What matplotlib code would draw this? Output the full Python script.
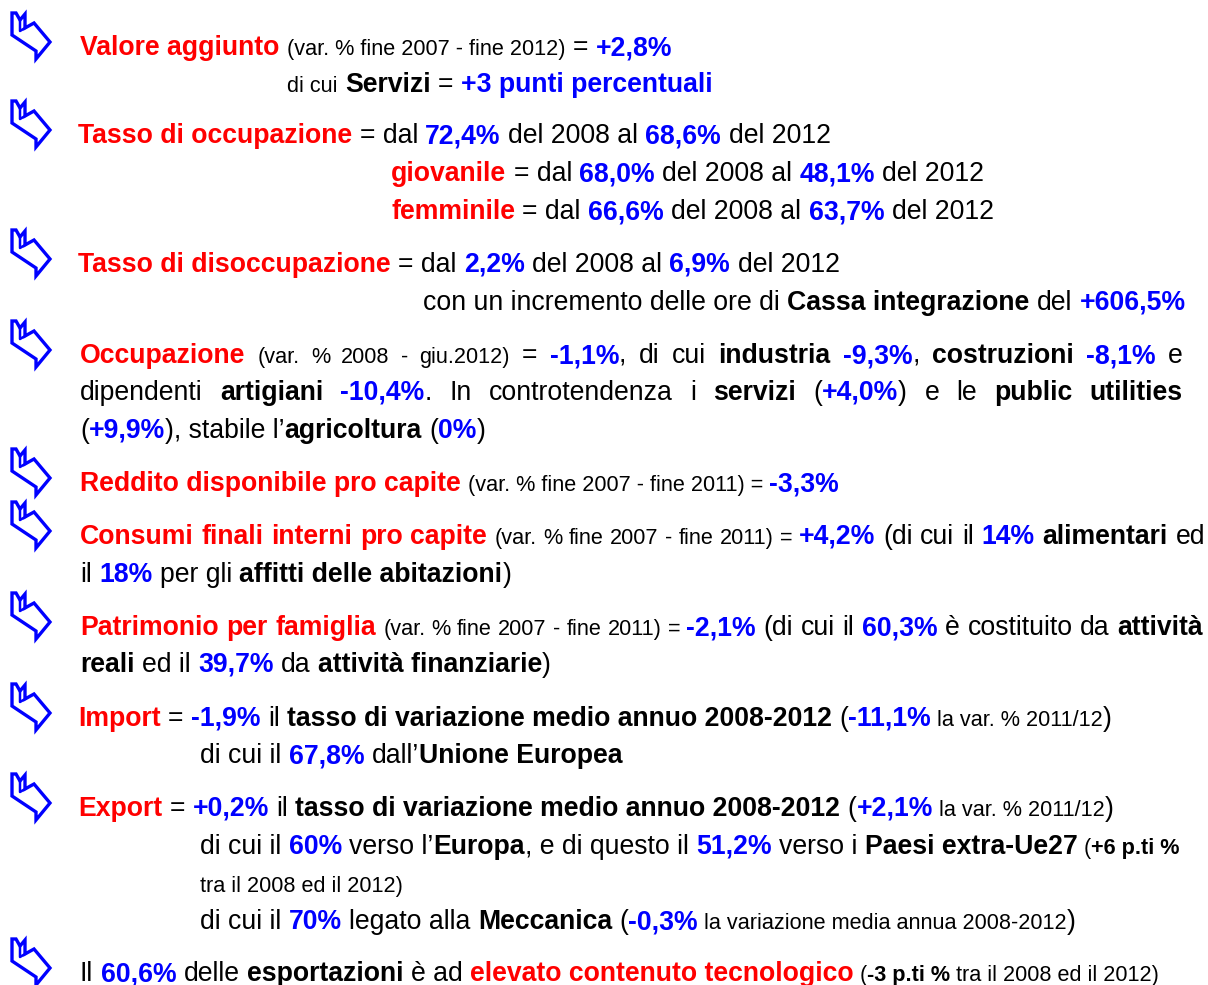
import matplotlib
matplotlib.use("Agg")
import matplotlib.pyplot as plt
from matplotlib.patches import Polygon

FAMILY = ['Liberation Sans', 'DejaVu Sans']
RED = '#FF0000'
BLUE = '#0000FF'
BLACK = '#000000'
BIG = 19.2
SMALL = 15.6

# stile: (dimensione, peso, colore)
STYLES = {
    'R': (BIG, 'bold', RED),
    'B': (BIG, 'bold', BLUE),
    'K': (BIG, 'bold', BLACK),
    'N': (BIG, 'normal', BLACK),
    'S': (SMALL, 'normal', BLACK),
    'SB': (SMALL, 'bold', BLACK),
}

# testo delle righe
valore = [("Valore aggiunto", 'R'), (" ", 'N'), ("(var. % fine 2007 - fine 2012)", 'S'),
          (" = ", 'N'), ("+2,8%", 'B')]
valore_2 = [("di cui", 'S'), (" ", 'N'), ("Servizi", 'K'), (" = ", 'N'), ("+3 punti percentuali", 'B')]
occ = [("Tasso di occupazione", 'R'), (" = dal ", 'N'), ("72,4%", 'B'), (" del 2008 al ", 'N'),
       ("68,6%", 'B'), (" del 2012", 'N')]
occ_giov = [("giovanile", 'R'), (" = dal ", 'N'), ("68,0%", 'B'), (" del 2008 al ", 'N'),
            ("48,1%", 'B'), (" del 2012", 'N')]
occ_femm = [("femminile", 'R'), (" = dal ", 'N'), ("66,6%", 'B'), (" del 2008 al ", 'N'),
            ("63,7%", 'B'), (" del 2012", 'N')]
disocc = [("Tasso di disoccupazione", 'R'), (" = dal ", 'N'), ("2,2%", 'B'), (" del 2008 al ", 'N'),
          ("6,9%", 'B'), (" del 2012", 'N')]
disocc_2 = [("con un incremento delle ore di ", 'N'), ("Cassa integrazione", 'K'), (" del ", 'N'),
            ("+606,5%", 'B')]
occupazione = [("Occupazione", 'R'), (" ", 'N'), ("(var. % 2008 - giu.2012)", 'S'), (" = ", 'N'),
               ("-1,1%", 'B'), (", di cui ", 'N'), ("industria", 'K'), (" ", 'N'), ("-9,3%", 'B'),
               (", ", 'N'), ("costruzioni", 'K'), (" ", 'N'), ("-8,1%", 'B'), (" e", 'N')]
occupazione_2 = [("dipendenti ", 'N'), ("artigiani", 'K'), (" ", 'N'), ("-10,4%", 'B'),
                 (". In controtendenza i ", 'N'), ("servizi", 'K'), (" (", 'N'), ("+4,0%", 'B'),
                 (") e le ", 'N'), ("public utilities", 'K')]
occupazione_3 = [("(", 'N'), ("+9,9%", 'B'), ("), stabile l\u2019", 'N'), ("agricoltura", 'K'),
                 (" (", 'N'), ("0%", 'B'), (")", 'N')]
reddito = [("Reddito disponibile pro capite", 'R'), (" ", 'N'),
           ("(var. % fine 2007 - fine 2011) = ", 'S'), ("-3,3%", 'B')]
consumi = [("Consumi finali interni pro capite", 'R'), (" ", 'N'),
           ("(var. % fine 2007 - fine 2011) = ", 'S'), ("+4,2%", 'B'), (" (di cui il ", 'N'),
           ("14%", 'B'), (" ", 'N'), ("alimentari", 'K'), (" ed", 'N')]
consumi_2 = [("il ", 'N'), ("18%", 'B'), (" per gli ", 'N'), ("affitti delle abitazioni", 'K'), (")", 'N')]
patrimonio = [("Patrimonio per famiglia", 'R'), (" ", 'N'),
              ("(var. % fine 2007 - fine 2011) = ", 'S'), ("-2,1%", 'B'), (" (di cui il ", 'N'),
              ("60,3%", 'B'), (" \u00e8 costituito da ", 'N'), ("attivit\u00e0", 'K')]
patrimonio_2 = [("reali", 'K'), (" ed il ", 'N'), ("39,7%", 'B'), (" da ", 'N'),
                ("attivit\u00e0 finanziarie", 'K'), (")", 'N')]
importazioni = [("Import", 'R'), (" = ", 'N'), ("-1,9%", 'B'), (" il ", 'N'),
                ("tasso di variazione medio annuo 2008-2012", 'K'), (" (", 'N'), ("-11,1%", 'B'),
                (" la var. % 2011/12", 'S'), (")", 'N')]
importazioni_2 = [("di cui il ", 'N'), ("67,8%", 'B'), (" dall\u2019", 'N'), ("Unione Europea", 'K')]
esportazioni = [("Export", 'R'), (" = ", 'N'), ("+0,2%", 'B'), (" il ", 'N'),
                ("tasso di variazione medio annuo 2008-2012", 'K'), (" (", 'N'), ("+2,1%", 'B'),
                (" la var. % 2011/12", 'S'), (")", 'N')]
esportazioni_2 = [("di cui il ", 'N'), ("60%", 'B'), (" verso l\u2019", 'N'), ("Europa", 'K'),
                  (", e di questo il ", 'N'), ("51,2%", 'B'), (" verso i ", 'N'),
                  ("Paesi extra-Ue27", 'K'), (" (", 'S'), ("+6 p.ti %", 'SB')]
esportazioni_3 = [("tra il 2008 ed il 2012)", 'S')]
esportazioni_4 = [("di cui il ", 'N'), ("70%", 'B'), (" legato alla ", 'N'), ("Meccanica", 'K'),
                  (" (", 'N'), ("-0,3%", 'B'), (" la variazione media annua 2008-2012", 'S'), (")", 'N')]
tecnologia = [("Il ", 'N'), ("60,6%", 'B'), (" delle ", 'N'), ("esportazioni", 'K'), (" \u00e8 ad ", 'N'),
              ("elevato contenuto tecnologico", 'R'), (" (", 'S'), ("-3 p.ti %", 'SB'),
              (" tra il 2008 ed il 2012)", 'S')]

# impaginazione: (riga, x sinistra, y centro, x destra se giustificata, freccia)
layout = [
    (valore, 80, 46, None, True),
    (valore_2, 287, 83, None, False),
    (occ, 78, 134, None, True),
    (occ_giov, 391, 172, None, False),
    (occ_femm, 391, 210, None, False),
    (disocc, 78, 263, None, True),
    (disocc_2, 423, 301, None, False),
    (occupazione, 80, 354, 1183, True),
    (occupazione_2, 80, 391, 1183, False),
    (occupazione_3, 80, 429, None, False),
    (reddito, 80, 482, None, True),
    (consumi, 80, 535, 1205, True),
    (consumi_2, 80, 573, None, False),
    (patrimonio, 80, 626, 1203, True),
    (patrimonio_2, 80, 663, None, False),
    (importazioni, 78, 717, None, True),
    (importazioni_2, 200, 754, None, False),
    (esportazioni, 78, 807, None, True),
    (esportazioni_2, 200, 845, None, False),
    (esportazioni_3, 200, 883, None, False),
    (esportazioni_4, 200, 920, None, False),
    (tecnologia, 80, 972, None, True),
]

fig = plt.figure(figsize=(12.08, 9.85), dpi=100)
ax = fig.add_axes([0, 0, 1, 1])
ax.set_xlim(0, 1208)
ax.set_ylim(985, 0)
ax.axis('off')
renderer = fig.canvas.get_renderer()

_cache = {}


def ink(s, st):
    key = (s, st)
    if key not in _cache:
        size, weight, _ = STYLES[st]
        t = ax.text(0, 0, s, fontsize=size, fontweight=weight, family=FAMILY)
        _cache[key] = t.get_window_extent(renderer).width
        t.remove()
    return _cache[key]


def width(s, st):
    # larghezza di avanzamento come la misura matplotlib
    return ink('|' + s + '|', st) - ink('||', st)


def put(x, base, t, st):
    size, weight, color = STYLES[st]
    ax.text(x, base, t, fontsize=size, fontweight=weight, color=color,
            family=FAMILY, ha='left', va='baseline')


def draw_line(segs, x0, yc, x1):
    base = yc + 9
    x = x0
    if not x1:
        for text, st in segs:
            core = text.strip(' ')
            lead = len(text) - len(text.lstrip(' '))
            x += lead * width(' ', st)
            if core:
                put(x, base, core, st)
                x += width(core, st)
                x += (len(text) - lead - len(core)) * width(' ', st)
        return
    # riga giustificata: parola per parola
    items = []
    for text, st in segs:
        for i, p in enumerate(text.split(' ')):
            if i > 0:
                items.append((True, ' ', st))
            if p:
                items.append((False, p, st))
    nat = sum(width(t, st) for _, t, st in items)
    nsp = sum(1 for sp, _, _ in items if sp)
    extra = (x1 - x0 - nat) / nsp
    for sp, t, st in items:
        if sp:
            x += width(' ', st) + extra
        else:
            put(x, base, t, st)
            x += width(t, st)


def arrow(yc):
    x, y = 12, yc - 33
    outer = [(0, 0), (4, 0), (8, 7), (13, 1), (13, 15), (22, 10), (38, 29),
             (24, 46), (24, 38), (0, 22)]
    ax.add_patch(Polygon([(x + a, y + b) for a, b in outer], closed=True, fill=False,
                         ec=BLUE, lw=2.4, joinstyle='miter'))
    ax.plot([x + 8, x + 8, x + 13], [y + 7, y + 18, y + 15], color=BLUE, lw=1.8)


for segs, x0, yc, x1, has_arrow in layout:
    draw_line(segs, x0, yc, x1)
    if has_arrow:
        arrow(yc)

fig.savefig('out.png', dpi=100, facecolor='white')
